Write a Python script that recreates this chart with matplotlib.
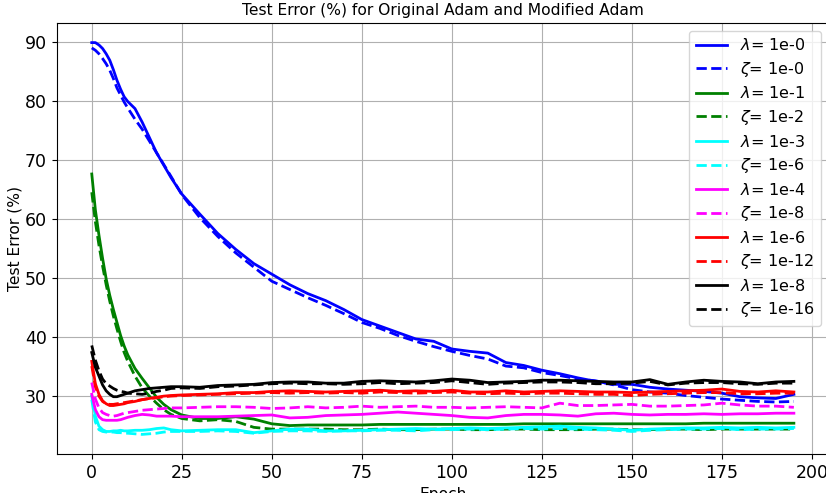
import matplotlib
matplotlib.use("Agg")
import matplotlib.pyplot as plt

epochs = [0, 1, 2, 3, 4, 5, 6, 7, 8, 9, 10, 12, 14, 16, 18, 20, 22, 25,
          30, 35, 40, 45, 50, 55, 60, 65, 70, 75, 80, 85, 90, 95, 100, 105,
          110, 115, 120, 125, 130, 135, 140, 145, 150, 155, 160, 165, 170,
          175, 180, 185, 190, 195]

# original Adam (lambda) / modified Adam (zeta), test error in %
lam_1e0 = [89.9, 89.9, 89.5, 88.9, 88.0, 86.9, 85.3, 83.5, 82.0, 80.7, 79.9,
           78.7, 76.4, 73.8, 71.2, 69.1, 67.0, 64.2, 60.8, 57.5, 54.8, 52.4,
           50.6, 48.8, 47.3, 46.1, 44.6, 42.9, 41.8, 40.7, 39.6, 39.2, 37.9,
           37.5, 37.2, 35.6, 35.1, 34.3, 33.7, 33.0, 32.4, 31.9, 31.9, 31.4,
           31.1, 30.9, 30.7, 30.4, 29.8, 29.6, 29.5, 30.2]
zeta_1e0 = [89.0, 88.6, 88.0, 87.2, 86.3, 85.2, 83.8, 82.2, 81.0, 79.8, 78.8,
            76.9, 75.2, 73.2, 71.2, 69.2, 67.2, 64.1, 60.2, 57.0, 54.2, 51.8,
            49.4, 48.0, 46.6, 45.3, 43.9, 42.4, 41.4, 40.2, 39.2, 38.3, 37.5,
            36.8, 36.2, 35.0, 34.7, 33.9, 33.4, 32.8, 32.5, 31.8, 31.0, 30.6,
            30.4, 30.0, 29.7, 29.4, 29.2, 29.0, 28.9, 29.0]
lam_1e1 = [67.6, 61.5, 57.2, 53.3, 49.8, 47.0, 44.6, 42.4, 40.2, 38.4, 36.9,
           34.6, 32.9, 31.3, 29.7, 28.5, 27.6, 26.7, 26.1, 26.1, 26.4, 26.0,
           25.2, 24.9, 25.0, 25.0, 25.0, 25.0, 25.1, 25.1, 25.1, 25.1, 25.1,
           25.1, 25.1, 25.1, 25.2, 25.2, 25.2, 25.2, 25.2, 25.2, 25.2, 25.2,
           25.2, 25.2, 25.3, 25.3, 25.3, 25.3, 25.3, 25.3]
zeta_1e2 = [64.5, 59.5, 55.5, 52.0, 48.8, 46.0, 43.5, 41.3, 39.2, 37.3, 35.8,
            33.3, 31.3, 29.9, 28.7, 27.6, 26.8, 26.1, 25.7, 25.9, 25.6, 24.6,
            24.3, 24.3, 24.3, 24.3, 24.2, 24.2, 24.3, 24.2, 24.2, 24.3, 24.3,
            24.2, 24.2, 24.3, 24.3, 24.2, 24.2, 24.2, 24.3, 24.3, 24.2, 24.2,
            24.3, 24.3, 24.2, 24.3, 24.3, 24.3, 24.3, 24.3]
lam_1e3 = [29.9, 26.5, 24.8, 24.2, 23.9, 23.9, 24.0, 24.0, 24.1, 24.0, 24.0,
           24.1, 24.1, 24.2, 24.4, 24.5, 24.2, 24.0, 24.1, 24.2, 24.2, 23.7,
           24.0, 24.3, 24.3, 24.0, 24.0, 24.1, 24.2, 24.3, 24.4, 24.3, 24.4,
           24.5, 24.4, 24.5, 24.6, 24.7, 24.8, 24.6, 24.5, 24.3, 24.1, 24.3,
           24.4, 24.5, 24.5, 24.6, 24.5, 24.6, 24.5, 24.6]
zeta_1e6 = [29.3, 25.5, 24.2, 23.9, 23.8, 23.8, 23.8, 23.7, 23.7, 23.6, 23.6,
            23.5, 23.4, 23.5, 23.6, 23.8, 23.9, 23.9, 23.9, 24.0, 23.9, 23.6,
            23.9, 24.0, 24.0, 23.9, 24.0, 24.0, 24.1, 24.1, 24.0, 24.2, 24.2,
            24.3, 24.2, 24.3, 24.4, 24.3, 24.4, 24.3, 24.2, 24.1, 23.9, 24.1,
            24.2, 24.3, 24.3, 24.4, 24.2, 24.3, 24.3, 24.4]
lam_1e4 = [30.2, 27.6, 26.4, 25.9, 25.8, 25.8, 25.8, 25.8, 25.9, 26.1, 26.3,
           26.6, 26.8, 26.7, 26.5, 26.5, 26.5, 26.4, 26.4, 26.4, 26.5, 26.6,
           26.7, 26.2, 26.3, 26.6, 26.7, 26.8, 27.0, 27.2, 27.0, 26.8, 26.6,
           26.3, 26.2, 26.6, 26.8, 26.8, 26.7, 26.5, 26.9, 27.0, 26.8, 26.7,
           26.8, 26.8, 26.9, 26.8, 26.9, 26.9, 27.0, 27.0]
zeta_1e8 = [32.2, 29.4, 27.9, 27.1, 26.8, 26.6, 26.5, 26.6, 26.8, 27.0, 27.1,
            27.3, 27.5, 27.6, 27.7, 27.8, 27.9, 27.9, 28.0, 28.1, 28.1, 28.0,
            27.8, 27.9, 28.1, 27.9, 28.0, 28.2, 28.0, 28.1, 28.2, 28.0, 28.0,
            27.9, 28.0, 28.1, 28.0, 27.9, 28.7, 28.3, 28.3, 28.4, 28.5, 28.2,
            28.2, 28.3, 28.4, 28.7, 28.4, 28.2, 28.2, 28.0]
lam_1e6 = [35.8, 32.0, 30.2, 29.1, 28.6, 28.3, 28.3, 28.4, 28.5, 28.6, 28.8,
           29.0, 29.3, 29.5, 29.7, 29.9, 30.0, 30.1, 30.2, 30.3, 30.5, 30.5,
           30.7, 30.8, 30.7, 30.6, 30.7, 30.8, 30.9, 30.7, 30.8, 30.7, 30.9,
           30.6, 30.6, 30.8, 30.6, 30.7, 30.8, 30.7, 30.6, 30.6, 30.5, 30.6,
           30.7, 30.8, 30.9, 31.1, 30.7, 30.6, 30.8, 30.6]
zeta_1e12 = [35.0, 31.5, 29.9, 29.0, 28.6, 28.5, 28.5, 28.6, 28.7, 28.8, 28.9,
             29.1, 29.3, 29.5, 29.6, 29.8, 29.9, 30.0, 30.1, 30.2, 30.3, 30.4,
             30.5, 30.4, 30.5, 30.4, 30.5, 30.4, 30.6, 30.5, 30.4, 30.5, 30.6,
             30.4, 30.3, 30.4, 30.3, 30.4, 30.4, 30.3, 30.2, 30.2, 30.0, 30.2,
             30.3, 30.4, 30.5, 30.5, 30.3, 30.3, 30.4, 30.4]
lam_1e8 = [37.3, 34.8, 33.3, 31.8, 30.8, 30.2, 29.8, 29.8, 30.0, 30.2, 30.4,
           30.8, 31.0, 31.2, 31.3, 31.4, 31.5, 31.5, 31.4, 31.7, 31.8, 31.9,
           32.2, 32.3, 32.3, 32.1, 32.1, 32.4, 32.5, 32.4, 32.3, 32.5, 32.8,
           32.6, 32.2, 32.3, 32.4, 32.6, 32.6, 32.5, 32.4, 32.3, 32.3, 32.7,
           31.9, 32.3, 32.6, 32.4, 32.3, 32.0, 32.3, 32.4]
zeta_1e16 = [38.5, 36.0, 34.2, 32.8, 32.0, 31.6, 31.2, 30.9, 30.7, 30.6, 30.4,
             30.3, 30.2, 30.4, 30.7, 30.9, 31.2, 31.3, 31.2, 31.5, 31.6, 31.8,
             32.0, 32.1, 32.0, 32.0, 31.9, 32.0, 32.2, 32.0, 32.1, 32.2, 32.5,
             32.2, 31.9, 32.1, 32.2, 32.3, 32.3, 32.2, 32.0, 32.0, 32.1, 32.4,
             31.8, 32.1, 32.2, 32.2, 32.0, 31.9, 32.1, 32.1]

series = [
    (lam_1e0, "blue", "-", r"$\lambda$= 1e-0"),
    (zeta_1e0, "blue", "--", r"$\zeta$= 1e-0"),
    (lam_1e1, "green", "-", r"$\lambda$= 1e-1"),
    (zeta_1e2, "green", "--", r"$\zeta$= 1e-2"),
    (lam_1e3, "cyan", "-", r"$\lambda$= 1e-3"),
    (zeta_1e6, "cyan", "--", r"$\zeta$= 1e-6"),
    (lam_1e4, "magenta", "-", r"$\lambda$= 1e-4"),
    (zeta_1e8, "magenta", "--", r"$\zeta$= 1e-8"),
    (lam_1e6, "red", "-", r"$\lambda$= 1e-6"),
    (zeta_1e12, "red", "--", r"$\zeta$= 1e-12"),
    (lam_1e8, "black", "-", r"$\lambda$= 1e-8"),
    (zeta_1e16, "black", "--", r"$\zeta$= 1e-16"),
]

FS = 11.2

fig = plt.figure(figsize=(8.26, 4.93), dpi=100)
# axes run slightly past the right edge, as in the reference crop
ax = fig.add_axes([0.0686, 0.0791, 0.935, 0.8742])
for vals, color, ls, label in series:
    ax.plot(epochs, vals, color=color, linestyle=ls, lw=2, label=label)

ax.set_title("Test Error (%) for Original Adam and Modified Adam", fontsize=FS)
ax.set_xlabel("Epoch", fontsize=FS)
ax.set_ylabel("Test Error (%)", fontsize=FS, labelpad=2)
ax.tick_params(labelsize=12.5)
ax.grid(True)
ax.legend(loc="upper right", fontsize=11.5, labelspacing=0.41)

fig.savefig("out.png", dpi=100)
